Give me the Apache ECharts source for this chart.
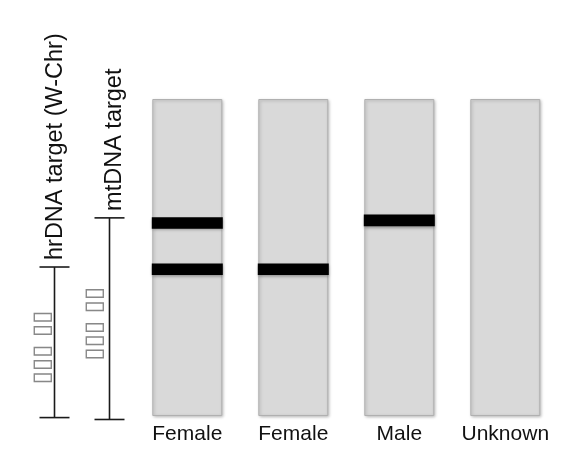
<!DOCTYPE html>
<html><head><meta charset="utf-8">
<script src="https://cdn.jsdelivr.net/npm/echarts@6/dist/echarts.min.js"></script>
<style>html,body{margin:0;padding:0;background:#fff}#c{width:577px;height:469px}</style>
</head><body><div id="c"></div>
<script>
// ---- data ----
const lanes = ['Female', 'Female', 'Male', 'Unknown'];
const laneLength = [100, 100, 100, 100];
// bands: [lane index, migration position (0 = bottom of gel, 100 = top)]
const bandLane = [0, 0, 1, 2];
const bandPos = [60.9, 46.3, 46.3, 61.7];
const markers = ['hrDNA target (W-Chr)', 'mtDNA target'];
const markerLow = [-0.5, -1.1];
const markerHigh = [47.0, 62.5];
const markerNote = ['▯▯▯ ▯▯', '▯▯▯ ▯▯'];

// ---- chart ----
const chart = echarts.init(document.getElementById('c'), null, {renderer: 'canvas'});
const labelShift = [1, 5];
const noteShift = [-12, -14.5];

const option = {
  animation: false,
  backgroundColor: '#fff',
  grid: [
    {left: 134.3, right: 18.7, top: 99, bottom: 53},
    {left: 27, width: 110, top: 99, bottom: 53}
  ],
  xAxis: [
    {type: 'category', gridIndex: 0, data: lanes,
     axisLine: {show: false}, axisTick: {show: false}, splitLine: {show: false},
     axisLabel: {interval: 0, fontSize: 21, color: '#111', margin: 8, fontFamily: 'Liberation Sans'}},
    {type: 'category', gridIndex: 1, data: markers, show: false}
  ],
  yAxis: [
    {type: 'value', gridIndex: 0, min: 0, max: 100, show: false},
    {type: 'value', gridIndex: 1, min: 0, max: 100, show: false}
  ],
  series: [
    {
      type: 'bar', xAxisIndex: 0, yAxisIndex: 0, data: laneLength, barWidth: 70,
      silent: true, z: 2,
      itemStyle: {color: '#d9d9d9', borderColor: '#b0b0b0', borderWidth: 1,
        shadowColor: 'rgba(0,0,0,0.25)', shadowBlur: 3, shadowOffsetX: 1, shadowOffsetY: 1}
    },
    {
      type: 'custom', xAxisIndex: 0, yAxisIndex: 0, silent: true, z: 5,
      data: bandLane.map((l, i) => [l, bandPos[i]]),
      renderItem: function (params, api) {
        const c = api.coord([api.value(0), api.value(1)]);
        const w = 71;
        return {type: 'rect', shape: {x: c[0] - w / 2, y: c[1] - 5.8, width: w, height: 11.6},
          style: {fill: '#000', shadowBlur: 3, shadowColor: 'rgba(0,0,0,0.35)', shadowOffsetY: 1.5}};
      }
    },
    {
      type: 'custom', xAxisIndex: 1, yAxisIndex: 1, silent: true, z: 5,
      data: markers.map((m, i) => [i, markerLow[i], markerHigh[i]]),
      renderItem: function (params, api) {
        const i = params.dataIndex;
        const top = api.coord([api.value(0), api.value(2)]);
        const bot = api.coord([api.value(0), api.value(1)]);
        const x = top[0];
        const ls = {stroke: '#1a1a1a', lineWidth: 1.6};
        const midY = (top[1] + bot[1]) / 2 + 5;
        return {type: 'group', children: [
          {type: 'line', shape: {x1: x, y1: top[1], x2: x, y2: bot[1]}, style: ls},
          {type: 'line', shape: {x1: x - 15, y1: top[1], x2: x + 15, y2: top[1]}, style: ls},
          {type: 'line', shape: {x1: x - 15, y1: bot[1], x2: x + 15, y2: bot[1]}, style: ls},
          {type: 'text', x: x + labelShift[i], y: top[1] - 7, rotation: Math.PI / 2,
            style: {text: markers[i], fill: '#111', font: '23.5px "Liberation Sans"',
              align: 'left', verticalAlign: 'middle'}},
          {type: 'text', x: x + noteShift[i], y: midY, rotation: Math.PI / 2,
            style: {text: markerNote[i], fill: '#888', font: '24px "DejaVu Sans"',
              align: 'center', verticalAlign: 'middle'}}
        ]};
      }
    }
  ]
};
chart.setOption(option);
</script>
</body></html>
